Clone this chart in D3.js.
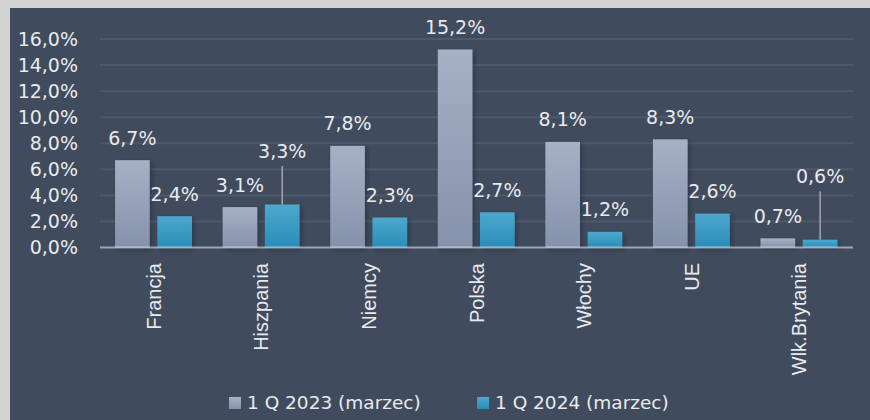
<!DOCTYPE html>
<html><head><meta charset="utf-8">
<script src="https://cdn.jsdelivr.net/npm/d3@7"></script>
<style>
html,body{margin:0;padding:0;background:#d3d3d3;}
svg{display:block;}
</style></head>
<body>
<svg id="chart" width="870" height="420"></svg>
<script>
const categories = ["Francja","Hiszpania","Niemcy","Polska","Włochy","UE","Wlk.Brytania"];
const series = ["1 Q 2023 (marzec)","1 Q 2024 (marzec)"];
const values2023 = [6.7, 3.1, 7.8, 15.2, 8.1, 8.3, 0.7];
const values2024 = [2.4, 3.3, 2.3, 2.7, 1.2, 2.6, 0.6];
const yTicks = [0, 2, 4, 6, 8, 10, 12, 14, 16];

const W = 870, H = 420;
const svg = d3.select("#chart");
const fmt = v => d3.format(".1f")(v).replace(".", ",") + "%";

// frame
svg.append("rect").attr("x",0).attr("y",0).attr("width",W).attr("height",H).attr("fill","#d3d3d3");
svg.append("rect").attr("x",10).attr("y",8).attr("width",W-10).attr("height",H-8).attr("fill","#404b5d");

const defs = svg.append("defs");
const grads = [["g0","#a5b1c5","#8592ab"],["g1","#4da8cd","#2a8db8"]];
grads.forEach(([id,a,b])=>{
  const g = defs.append("linearGradient").attr("id",id).attr("x1",0).attr("y1",0).attr("x2",0).attr("y2",1);
  g.append("stop").attr("offset","0%").attr("stop-color",a);
  g.append("stop").attr("offset","100%").attr("stop-color",b);
});
const f = defs.append("filter").attr("id","sh").attr("x","-20%").attr("y","-20%").attr("width","150%").attr("height","150%");
f.append("feDropShadow").attr("dx",2).attr("dy",2).attr("stdDeviation",2).attr("flood-color","#1e2530").attr("flood-opacity",0.45);

const x0 = d3.scaleBand().domain(categories).range([100, 853]).padding(0);
const bw = x0.bandwidth();
const x1 = d3.scaleBand().domain(series).range([bw*0.14, bw*0.855]).paddingInner(0.18);
const y = d3.scaleLinear().domain([0, 16]).range([247.5, 39]);

// gridlines
svg.append("g").selectAll("line").data(yTicks.filter(t=>t>0)).join("line")
  .attr("x1",100).attr("x2",853).attr("y1",d=>y(d)).attr("y2",d=>y(d))
  .attr("stroke","#4e5a6b").attr("stroke-width",2);

// y axis labels
const yAxis = d3.axisLeft(y).tickValues(yTicks).tickFormat(fmt).tickSize(0).tickPadding(0);
const ya = svg.append("g").attr("transform","translate(78,0)").call(yAxis);
ya.select(".domain").remove();
ya.selectAll("text").attr("font-family","DejaVu Sans").attr("font-size",19).attr("fill","#e8eaee");

const data = categories.map((c,i)=>({cat:c, vals:[values2023[i], values2024[i]]}));

// bars
const groups = svg.append("g").selectAll("g").data(data).join("g")
  .attr("transform",d=>`translate(${x0(d.cat)},0)`);
groups.selectAll("rect").data(d=>d.vals.map((v,j)=>({v, s:series[j], j}))).join("rect")
  .attr("x",d=>x1(d.s)).attr("width",x1.bandwidth())
  .attr("y",d=>y(d.v)).attr("height",d=>y(0)-y(d.v))
  .attr("fill",d=>`url(#g${d.j})`).attr("filter","url(#sh)");

// axis line
svg.append("line").attr("x1",100).attr("x2",853).attr("y1",y(0)).attr("y2",y(0))
  .attr("stroke","#ffffff").attr("stroke-opacity",0.5).attr("stroke-width",2);

// value labels (with leader lines for two labels lifted above)
const lift = {"Hiszpania|1":31, "Wlk.Brytania|1":41};
data.forEach(d=>{
  d.vals.forEach((v,j)=>{
    const cx = x0(d.cat) + x1(series[j]) + x1.bandwidth()/2;
    const extra = lift[d.cat+"|"+j] || 0;
    const base = y(v) - 15.5 - extra;
    if (extra) {
      svg.append("line").attr("x1",cx).attr("x2",cx).attr("y1",y(v)).attr("y2",base+8)
        .attr("stroke","#a3a8b0").attr("stroke-width",1.5);
    }
    svg.append("text").attr("x",cx).attr("y",base).attr("text-anchor","middle")
      .attr("font-family","DejaVu Sans").attr("font-size",19).attr("fill","#e8eaee")
      .text(fmt(v));
  });
});

// category labels
svg.append("g").selectAll("text").data(categories).join("text")
  .attr("transform",d=>`translate(${x0(d)+bw/2},263) rotate(-90)`)
  .attr("text-anchor","end").attr("dy","0.35em")
  .attr("font-family","Liberation Sans").attr("font-size",20).attr("fill","#e8eaee")
  .text(d=>d);

// legend
const legX = [229, 477];
const leg = svg.append("g").selectAll("g").data(series).join("g")
  .attr("transform",(d,i)=>`translate(${legX[i]},397)`);
leg.append("rect").attr("width",12).attr("height",12).attr("fill",(d,i)=>`url(#g${i})`);
leg.append("text").attr("x",18).attr("y",12).attr("font-family","DejaVu Sans").attr("font-size",18.5)
  .attr("fill","#e8eaee").text(d=>d);
</script>
</body></html>
